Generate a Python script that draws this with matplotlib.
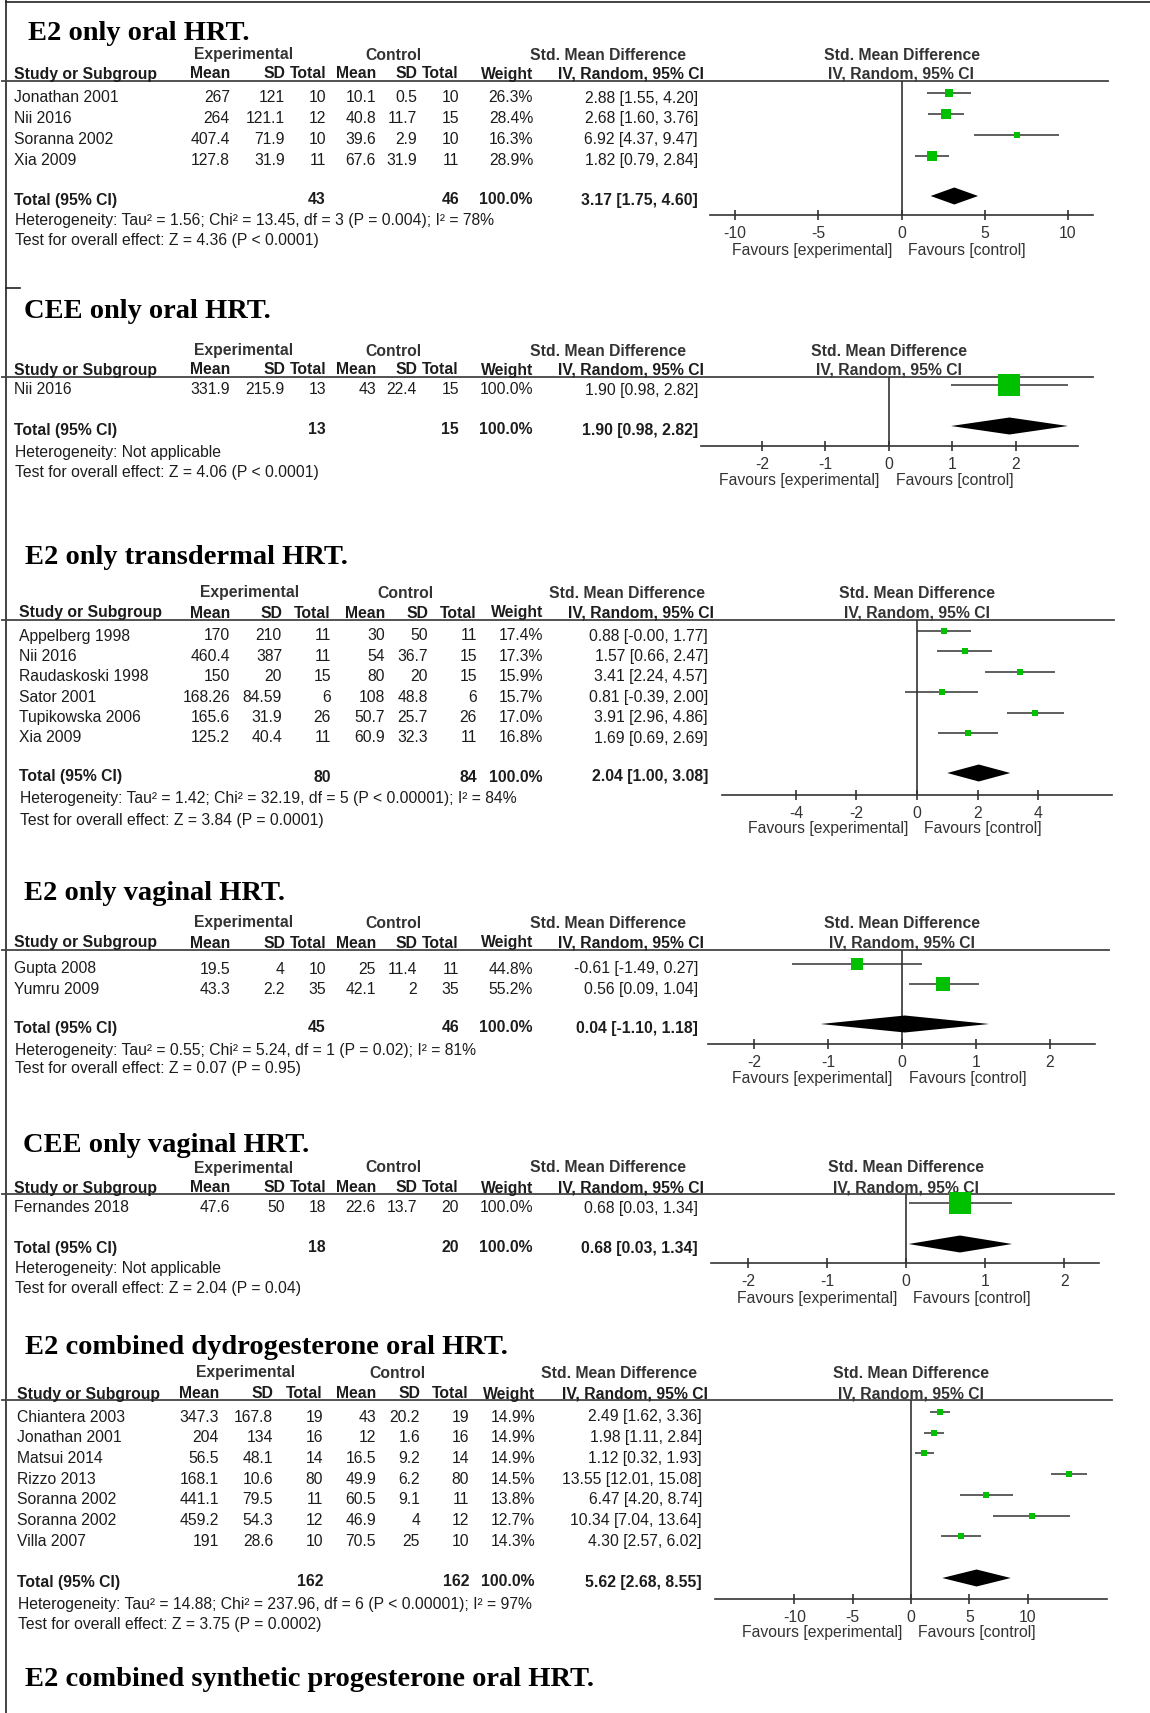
import matplotlib
matplotlib.use("Agg")
import matplotlib.pyplot as plt
from matplotlib.transforms import blended_transform_factory

W, H, DPI = 1150, 1713, 100

# ------------------------------------------------------------------ data
p1_title = "E2 only oral HRT."
p1_study = ["Jonathan 2001", "Nii 2016", "Soranna 2002", "Xia 2009"]
p1_exp_mean = [267, 264, 407.4, 127.8]
p1_exp_sd = [121, 121.1, 71.9, 31.9]
p1_exp_n = [10, 12, 10, 11]
p1_ctl_mean = [10.1, 40.8, 39.6, 67.6]
p1_ctl_sd = [0.5, 11.7, 2.9, 31.9]
p1_ctl_n = [10, 15, 10, 11]
p1_weight = [26.3, 28.4, 16.3, 28.9]
p1_smd = [2.88, 2.68, 6.92, 1.82]
p1_lo = [1.55, 1.60, 4.37, 0.79]
p1_hi = [4.20, 3.76, 9.47, 2.84]
p1_total = [3.17, 1.75, 4.60]
p1_total_n = [43, 46]
p1_het = "Heterogeneity: Tau² = 1.56; Chi² = 13.45, df = 3 (P = 0.004); I² = 78%"
p1_test = "Test for overall effect: Z = 4.36 (P < 0.0001)"
p1_ticks = [-10, -5, 0, 5, 10]

p2_title = "CEE only oral HRT."
p2_study = ["Nii 2016"]
p2_exp_mean = [331.9]
p2_exp_sd = [215.9]
p2_exp_n = [13]
p2_ctl_mean = [43]
p2_ctl_sd = [22.4]
p2_ctl_n = [15]
p2_weight = [100.0]
p2_smd = [1.90]
p2_lo = [0.98]
p2_hi = [2.82]
p2_total = [1.90, 0.98, 2.82]
p2_total_n = [13, 15]
p2_het = "Heterogeneity: Not applicable"
p2_test = "Test for overall effect: Z = 4.06 (P < 0.0001)"
p2_ticks = [-2, -1, 0, 1, 2]

p3_title = "E2 only transdermal HRT."
p3_study = ["Appelberg 1998", "Nii 2016", "Raudaskoski 1998", "Sator 2001",
            "Tupikowska 2006", "Xia 2009"]
p3_exp_mean = [170, 460.4, 150, 168.26, 165.6, 125.2]
p3_exp_sd = [210, 387, 20, 84.59, 31.9, 40.4]
p3_exp_n = [11, 11, 15, 6, 26, 11]
p3_ctl_mean = [30, 54, 80, 108, 50.7, 60.9]
p3_ctl_sd = [50, 36.7, 20, 48.8, 25.7, 32.3]
p3_ctl_n = [11, 15, 15, 6, 26, 11]
p3_weight = [17.4, 17.3, 15.9, 15.7, 17.0, 16.8]
p3_smd = [0.88, 1.57, 3.41, 0.81, 3.91, 1.69]
p3_lo = [-0.004, 0.66, 2.24, -0.39, 2.96, 0.69]
p3_hi = [1.77, 2.47, 4.57, 2.00, 4.86, 2.69]
p3_total = [2.04, 1.00, 3.08]
p3_total_n = [80, 84]
p3_het = "Heterogeneity: Tau² = 1.42; Chi² = 32.19, df = 5 (P < 0.00001); I² = 84%"
p3_test = "Test for overall effect: Z = 3.84 (P = 0.0001)"
p3_ticks = [-4, -2, 0, 2, 4]

p4_title = "E2 only vaginal HRT."
p4_study = ["Gupta 2008", "Yumru 2009"]
p4_exp_mean = [19.5, 43.3]
p4_exp_sd = [4, 2.2]
p4_exp_n = [10, 35]
p4_ctl_mean = [25, 42.1]
p4_ctl_sd = [11.4, 2]
p4_ctl_n = [11, 35]
p4_weight = [44.8, 55.2]
p4_smd = [-0.61, 0.56]
p4_lo = [-1.49, 0.09]
p4_hi = [0.27, 1.04]
p4_total = [0.04, -1.10, 1.18]
p4_total_n = [45, 46]
p4_het = "Heterogeneity: Tau² = 0.55; Chi² = 5.24, df = 1 (P = 0.02); I² = 81%"
p4_test = "Test for overall effect: Z = 0.07 (P = 0.95)"
p4_ticks = [-2, -1, 0, 1, 2]

p5_title = "CEE only vaginal HRT."
p5_study = ["Fernandes 2018"]
p5_exp_mean = [47.6]
p5_exp_sd = [50]
p5_exp_n = [18]
p5_ctl_mean = [22.6]
p5_ctl_sd = [13.7]
p5_ctl_n = [20]
p5_weight = [100.0]
p5_smd = [0.68]
p5_lo = [0.03]
p5_hi = [1.34]
p5_total = [0.68, 0.03, 1.34]
p5_total_n = [18, 20]
p5_het = "Heterogeneity: Not applicable"
p5_test = "Test for overall effect: Z = 2.04 (P = 0.04)"
p5_ticks = [-2, -1, 0, 1, 2]

p6_title = "E2 combined dydrogesterone oral HRT."
p6_study = ["Chiantera 2003", "Jonathan 2001", "Matsui 2014", "Rizzo 2013",
            "Soranna 2002", "Soranna 2002", "Villa 2007"]
p6_exp_mean = [347.3, 204, 56.5, 168.1, 441.1, 459.2, 191]
p6_exp_sd = [167.8, 134, 48.1, 10.6, 79.5, 54.3, 28.6]
p6_exp_n = [19, 16, 14, 80, 11, 12, 10]
p6_ctl_mean = [43, 12, 16.5, 49.9, 60.5, 46.9, 70.5]
p6_ctl_sd = [20.2, 1.6, 9.2, 6.2, 9.1, 4, 25]
p6_ctl_n = [19, 16, 14, 80, 11, 12, 10]
p6_weight = [14.9, 14.9, 14.9, 14.5, 13.8, 12.7, 14.3]
p6_smd = [2.49, 1.98, 1.12, 13.55, 6.47, 10.34, 4.30]
p6_lo = [1.62, 1.11, 0.32, 12.01, 4.20, 7.04, 2.57]
p6_hi = [3.36, 2.84, 1.93, 15.08, 8.74, 13.64, 6.02]
p6_total = [5.62, 2.68, 8.55]
p6_total_n = [162, 162]
p6_het = "Heterogeneity: Tau² = 14.88; Chi² = 237.96, df = 6 (P < 0.00001); I² = 97%"
p6_test = "Test for overall effect: Z = 3.75 (P = 0.0002)"
p6_ticks = [-10, -5, 0, 5, 10]

p7_title = "E2 combined synthetic progesterone oral HRT."

# ------------------------------------------------------------------ layout (pixels)
COLS_A = dict(label=14, em=230, es=285, en=326, cm=376, cs=417, cn=459, w=533, ci=698,
              exp=244, ctl=393, smd=608)
COLS_3 = dict(label=19, em=230, es=282, en=331, cm=385, cs=428, cn=477, w=543, ci=708,
              exp=250, ctl=405, smd=627)
COLS_6 = dict(label=17, em=219, es=273, en=323, cm=376, cs=420, cn=469, w=535, ci=702,
              exp=246, ctl=397, smd=619)

L1 = dict(title_x=28, title_y=34, h1=55, h2=74, line=81, line_x1=1108, row0=98, dy=20.9,
          total=200, het=221, test=240, axis=215, fav=250, ax_x=(710, 1093),
          xlim=(-11.5, 11.5), sq=0.32, cols=COLS_A)
L2 = dict(title_x=24, title_y=311, h1=351, h2=370, line=377, line_x1=1093, row0=390, dy=20.9,
          total=430, het=452, test=472, axis=446, fav=481, ax_x=(701, 1078),
          xlim=(-2.96, 2.98), sq=0.22, cols=COLS_A)
L3 = dict(title_x=25, title_y=558, h1=593, h2=613, line=620, line_x1=1114, row0=636, dy=20.4,
          total=777, het=799, test=820, axis=795, fav=828, ax_x=(722, 1112),
          xlim=(-6.44, 6.44), sq=0.40, cols=COLS_3)
L4 = dict(title_x=24, title_y=893, h1=923, h2=943, line=950, line_x1=1109, row0=969, dy=20.5,
          total=1028, het=1050, test=1069, axis=1044, fav=1079, ax_x=(708, 1095),
          xlim=(-2.62, 2.61), sq=0.26, cols=COLS_A)
L5 = dict(title_x=23, title_y=1145, h1=1168, h2=1188, line=1194, line_x1=1114, row0=1208, dy=20.5,
          total=1248, het=1269, test=1289, axis=1263, fav=1299, ax_x=(711, 1099),
          xlim=(-2.47, 2.44), sq=0.23, cols=COLS_A)
L6 = dict(title_x=25, title_y=1347, h1=1373, h2=1394, line=1400, line_x1=1112, row0=1417, dy=20.7,
          total=1582, het=1604, test=1625, axis=1599, fav=1633, ax_x=(715, 1107),
          xlim=(-16.8, 16.8), sq=0.40, cols=COLS_6)
L7 = dict(title_x=25, title_y=1680)

TXT = "#1c1c1c"
GREY = "#333333"
GREEN = "#00c000"
FS = 11.3
TITLE_FS = 20.5
PX2PT = 72.0 / DPI

plt.rcParams["font.family"] = ["Liberation Sans", "DejaVu Sans"]

fig = plt.figure(figsize=(W / DPI, H / DPI), dpi=DPI)
bg = fig.add_axes([0, 0, 1, 1])
bg.set_xlim(0, W)
bg.set_ylim(H, 0)
bg.axis("off")

# frame lines
bg.plot([6, 6], [0, H], color="#222", lw=1.2)
bg.plot([6, W], [2, 2], color="#222", lw=1.2)
bg.plot([6, 20], [288, 288], color="#222", lw=1.2)


def fmt(v):
    return f"{v:g}"


def title(L, text):
    bg.text(L["title_x"], L["title_y"], text, family=["Liberation Serif", "DejaVu Serif"],
            weight="bold", fontsize=TITLE_FS, color="black", ha="left", va="center")


def panel(L, ttl, study, em, es, en, cm, cs, cn, wt, smd, lo, hi, total, total_n,
          het, test, ticks):
    c = L["cols"]
    title(L, ttl)
    kw = dict(fontsize=FS, color=TXT, va="center")
    bkw = dict(kw, weight="bold")
    # headers
    bg.text(c["exp"], L["h1"], "Experimental", ha="center", **dict(bkw, color=GREY))
    bg.text(c["ctl"], L["h1"], "Control", ha="center", **dict(bkw, color=GREY))
    bg.text(c["smd"], L["h1"], "Std. Mean Difference", ha="center", **dict(bkw, color=GREY))
    bg.text(c["label"], L["h2"], "Study or Subgroup", ha="left", **bkw)
    for key, lab in [("em", "Mean"), ("es", "SD"), ("en", "Total"), ("cm", "Mean"),
                     ("cs", "SD"), ("cn", "Total"), ("w", "Weight")]:
        bg.text(c[key], L["h2"], lab, ha="right", **bkw)
    bg.text(c["ci"] + 6, L["h2"], "IV, Random, 95% CI", ha="right", **bkw)
    bg.plot([2, L["line_x1"]], [L["line"], L["line"]], color="#444", lw=1.3)

    # rows
    ys = [L["row0"] + i * L["dy"] for i in range(len(study))]
    for i, y in enumerate(ys):
        bg.text(c["label"], y, study[i], ha="left", **kw)
        bg.text(c["em"], y, fmt(em[i]), ha="right", **kw)
        bg.text(c["es"], y, fmt(es[i]), ha="right", **kw)
        bg.text(c["en"], y, fmt(en[i]), ha="right", **kw)
        bg.text(c["cm"], y, fmt(cm[i]), ha="right", **kw)
        bg.text(c["cs"], y, fmt(cs[i]), ha="right", **kw)
        bg.text(c["cn"], y, fmt(cn[i]), ha="right", **kw)
        bg.text(c["w"], y, f"{wt[i]:.1f}%", ha="right", **kw)
        bg.text(c["ci"], y, f"{smd[i]:.2f} [{lo[i]:.2f}, {hi[i]:.2f}]", ha="right", **kw)

    # total
    bg.text(c["label"], L["total"], "Total (95% CI)", ha="left", **bkw)
    bg.text(c["en"], L["total"], fmt(total_n[0]), ha="right", **bkw)
    bg.text(c["cn"], L["total"], fmt(total_n[1]), ha="right", **bkw)
    bg.text(c["w"], L["total"], "100.0%", ha="right", **bkw)
    bg.text(c["ci"], L["total"], f"{total[0]:.2f} [{total[1]:.2f}, {total[2]:.2f}]",
            ha="right", **bkw)
    bg.text(c["label"] + 1, L["het"], het, ha="left", **kw)
    bg.text(c["label"] + 1, L["test"], test, ha="left", **kw)

    # forest axes
    x0, x1 = L["ax_x"]
    ax = fig.add_axes([x0 / W, 1 - L["axis"] / H, (x1 - x0) / W, (L["axis"] - L["line"]) / H])
    ax.set_xlim(*L["xlim"])
    ax.set_ylim(L["axis"], L["line"])
    ax.patch.set_visible(False)
    for s in ("top", "left", "right"):
        ax.spines[s].set_visible(False)
    ax.spines["bottom"].set_color(GREY)
    ax.spines["bottom"].set_linewidth(1.2)
    ax.set_yticks([])
    ax.set_xticks(ticks)
    ax.set_xticklabels([fmt(t) for t in ticks])
    ax.tick_params(axis="x", direction="inout", length=7.5, width=1.2, color=GREY,
                   labelsize=FS, labelcolor=GREY, pad=4.0)
    ax.axvline(0, color=GREY, lw=1.2)
    mk = [y - 5 for y in ys]
    ax.hlines(mk, lo, hi, color=GREY, lw=1.1)
    for i in range(len(study)):
        ax.plot([smd[i]], [mk[i]], marker="s", linestyle="none", color=GREEN,
                markersize=L["sq"] * wt[i] * PX2PT, markeredgewidth=0, clip_on=False,
                zorder=3)
    yc = L["total"] - 4
    hh = 8.5
    ax.fill([total[1], total[0], total[2], total[0]], [yc, yc - hh, yc, yc + hh],
            color="black", lw=0, clip_on=False, zorder=3)

    tr = blended_transform_factory(ax.transData, bg.transData)
    bg.text(0, L["h1"], "Std. Mean Difference", transform=tr, ha="center",
            **dict(bkw, color=GREY))
    bg.text(0, L["h2"], "IV, Random, 95% CI", transform=tr, ha="center",
            **dict(bkw, color=GREY))
    bg.annotate("Favours [experimental]", xy=(0, L["fav"]), xycoords=tr, xytext=(-6.5, 0),
                textcoords="offset points", ha="right", va="center", fontsize=FS, color=GREY)
    bg.annotate("Favours [control]", xy=(0, L["fav"]), xycoords=tr, xytext=(5, 0),
                textcoords="offset points", ha="left", va="center", fontsize=FS, color=GREY)


panel(L1, p1_title, p1_study, p1_exp_mean, p1_exp_sd, p1_exp_n, p1_ctl_mean, p1_ctl_sd,
      p1_ctl_n, p1_weight, p1_smd, p1_lo, p1_hi, p1_total, p1_total_n, p1_het, p1_test, p1_ticks)
panel(L2, p2_title, p2_study, p2_exp_mean, p2_exp_sd, p2_exp_n, p2_ctl_mean, p2_ctl_sd,
      p2_ctl_n, p2_weight, p2_smd, p2_lo, p2_hi, p2_total, p2_total_n, p2_het, p2_test, p2_ticks)
panel(L3, p3_title, p3_study, p3_exp_mean, p3_exp_sd, p3_exp_n, p3_ctl_mean, p3_ctl_sd,
      p3_ctl_n, p3_weight, p3_smd, p3_lo, p3_hi, p3_total, p3_total_n, p3_het, p3_test, p3_ticks)
panel(L4, p4_title, p4_study, p4_exp_mean, p4_exp_sd, p4_exp_n, p4_ctl_mean, p4_ctl_sd,
      p4_ctl_n, p4_weight, p4_smd, p4_lo, p4_hi, p4_total, p4_total_n, p4_het, p4_test, p4_ticks)
panel(L5, p5_title, p5_study, p5_exp_mean, p5_exp_sd, p5_exp_n, p5_ctl_mean, p5_ctl_sd,
      p5_ctl_n, p5_weight, p5_smd, p5_lo, p5_hi, p5_total, p5_total_n, p5_het, p5_test, p5_ticks)
panel(L6, p6_title, p6_study, p6_exp_mean, p6_exp_sd, p6_exp_n, p6_ctl_mean, p6_ctl_sd,
      p6_ctl_n, p6_weight, p6_smd, p6_lo, p6_hi, p6_total, p6_total_n, p6_het, p6_test, p6_ticks)
title(L7, p7_title)

fig.savefig("out.png", dpi=DPI, facecolor="white")
